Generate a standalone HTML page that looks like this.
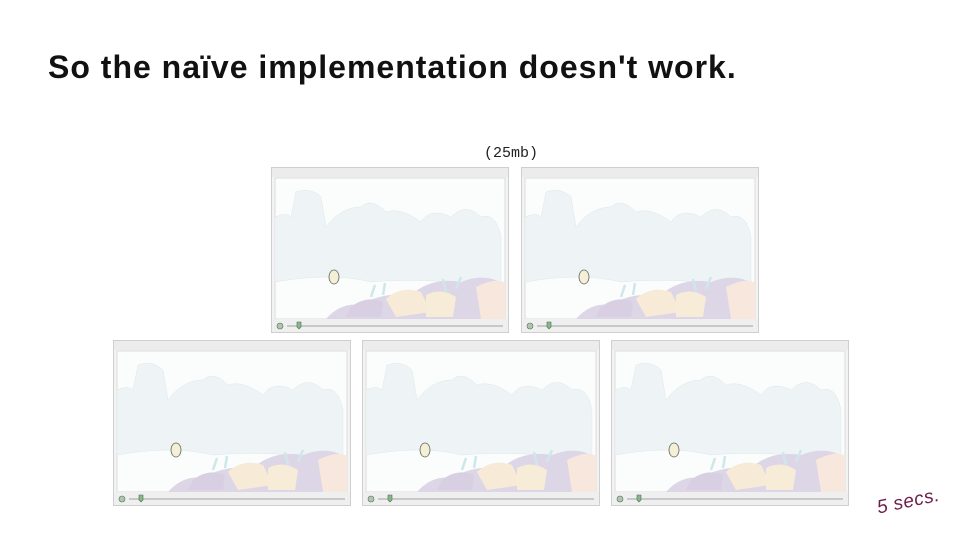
<!DOCTYPE html>
<html><head><meta charset="utf-8"><style>
body{margin:0;width:960px;height:540px;background:#fff;position:relative;overflow:hidden;font-family:"Liberation Sans",sans-serif}
h1{position:absolute;left:48px;top:49px;margin:0;font-size:32px;font-weight:bold;color:#111;letter-spacing:1px;white-space:nowrap}
.mb{position:absolute;left:484px;top:145px;font-family:"Liberation Mono",monospace;font-size:15px;color:#222}
.secs{position:absolute;left:875px;top:498px;font-family:"Liberation Sans",sans-serif;font-style:italic;font-size:19px;color:#6e1e48;transform:rotate(-12deg);transform-origin:left top;letter-spacing:0.5px}
svg{position:absolute;left:0;top:0}
</style></head><body>
<h1>So the naïve implementation doesn't work.</h1>
<div class="mb">(25mb)</div>
<svg width="960" height="540">
<defs>
<symbol id="f" viewBox="0 0 238 166">
<rect x="0.5" y="0.5" width="237" height="165" fill="#f3f3f3" stroke="#cfcfcf"/>
<rect x="1" y="1" width="236" height="9" fill="#ececec"/>
<rect x="4" y="11" width="230" height="141" fill="#fbfdfd" stroke="#dcdcdc"/>
<path d="M4 50 Q15 45 20 50 L25 25 Q40 20 50 30 L55 60 Q70 40 90 40 Q100 30 115 45 Q130 40 150 55 Q160 40 180 50 Q195 35 210 50 Q225 45 230 70 L230 120 Q150 110 100 115 Q60 105 4 115Z" fill="#eef4f6" stroke="#dde7ea" stroke-width="0.5"/>
<path d="M55 152 Q70 135 90 138 Q110 125 140 128 Q160 110 190 115 Q215 105 234 118 L234 152Z" fill="#ddd6e6"/>
<path d="M115 132 Q130 118 150 125 L160 145 L125 150Z" fill="#f7ebd8"/>
<path d="M205 120 Q225 110 234 116 L234 152 L210 152Z" fill="#f8e7dd"/>
<path d="M155 128 Q170 120 185 130 L182 150 L155 150Z" fill="#f6ecd8"/>
<path d="M80 140 Q95 128 112 135 L110 150 L75 150Z" fill="#d8d0e2"/>
<path d="M100 130 L104 118 M112 128 L114 116 M175 125 L172 112 M185 122 L190 110" stroke="#cfe7ea" stroke-width="2.5"/>
<ellipse cx="63" cy="110" rx="5" ry="7" fill="#f4f0d6" stroke="#666" stroke-width="0.8"/>
<rect x="1" y="152" width="236" height="13" fill="#efefef"/>
<circle cx="9" cy="159" r="3" fill="#aac9a8" stroke="#666" stroke-width="0.6"/>
<line x1="16" y1="159" x2="232" y2="159" stroke="#888" stroke-width="0.8"/>
<path d="M26 155 L30 155 L30 160 L28 162 L26 160Z" fill="#86b88a" stroke="#4d6e50" stroke-width="0.6"/>
</symbol>
</defs>
<use href="#f" x="271" y="167" width="238" height="166"/>
<use href="#f" x="521" y="167" width="238" height="166"/>
<use href="#f" x="113" y="340" width="238" height="166"/>
<use href="#f" x="362" y="340" width="238" height="166"/>
<use href="#f" x="611" y="340" width="238" height="166"/>
</svg>
<div class="secs">5 secs.</div>
</body></html>
